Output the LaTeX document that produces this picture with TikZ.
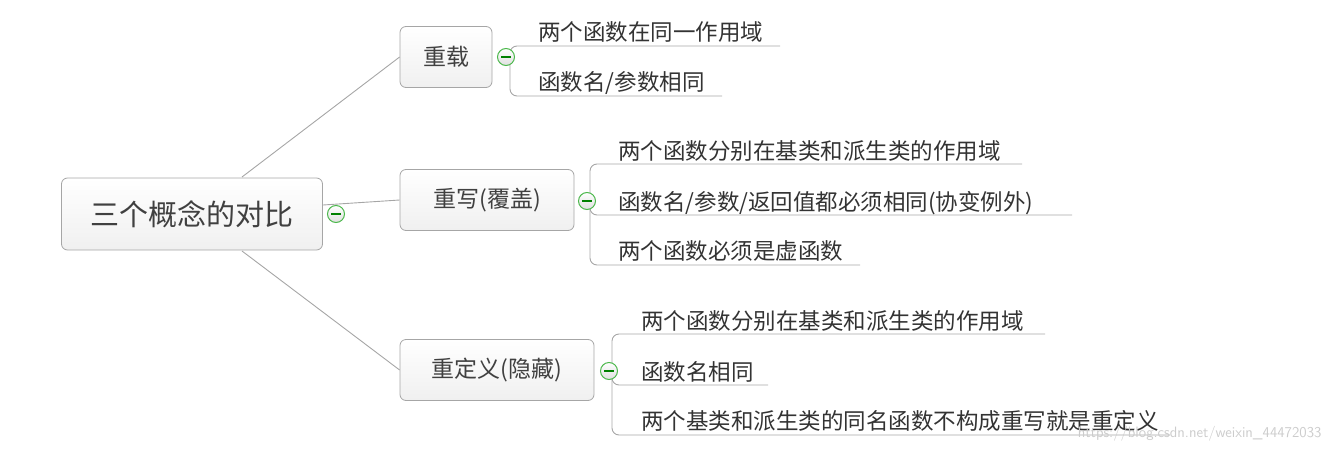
\documentclass[tikz,border=0pt]{standalone}
\usepackage{fontspec}
\setmainfont{Noto Sans CJK SC}
\begin{document}
\begin{tikzpicture}[x=1pt,y=-1pt,
  box/.style={draw=gray!70,rounded corners=6pt,top color=white,bottom color=gray!12,line width=0.8pt,inner sep=0pt,text=black!75},
  tog/.style={circle,draw=green!60!black!70,line width=1pt,top color=white,bottom color=gray!25,minimum size=17pt,inner sep=0pt},
  leaf/.style={anchor=base west,inner sep=0pt,font=\fontsize{22.5}{22.5}\selectfont,text=black!80},
  ln/.style={draw=gray!70,line width=0.9pt},
]
\useasboundingbox (0,0) rectangle (1333,450);
\node[box,minimum width=261pt,minimum height=72pt,font=\fontsize{29}{29}\selectfont] (root) at (192,214) {三个概念的对比};
\node[box,minimum width=92pt,minimum height=61pt,font=\fontsize{23}{23}\selectfont] (b1) at (446,57) {重载};
\node[box,minimum width=174pt,minimum height=61pt,font=\fontsize{23}{23}\selectfont] (b2) at (487,200) {重写(覆盖)};
\node[box,minimum width=194pt,minimum height=61pt,font=\fontsize{23}{23}\selectfont] (b3) at (497,370) {重定义(隐藏)};
\coordinate (r1) at (242,177);
\coordinate (r2) at (323,205);
\coordinate (r3) at (242,251);
\draw[ln] (r1) -- (b1.west);
\draw[ln] (r2) -- (b2.west);
\draw[ln] (r3) -- (b3.west);
% branch 1
\node[leaf] (l11) at (538,40) {两个函数在同一作用域};
\node[leaf] (l12) at (538,90) {函数名/参数相同};
\draw[ln,rounded corners=7pt] (780,46) -- (510,46) -- (510,96) -- (722,96);
% branch 2
\node[leaf] (l21) at (618,159) {两个函数分别在基类和派生类的作用域};
\node[leaf] (l22) at (618,210) {函数名/参数/返回值都必须相同(协变例外)};
\node[leaf] (l23) at (618,259) {两个函数必须是虚函数};
\draw[ln,rounded corners=7pt] (1022,164) -- (590,164) -- (590,265) -- (860,265);
\draw[ln,rounded corners=7pt] (590,201) -- (590,215) -- (1072,215);
% branch 3
\node[leaf] (l31) at (641,329) {两个函数分别在基类和派生类的作用域};
\node[leaf] (l32) at (641,380) {函数名相同};
\node[leaf] (l33) at (641,429) {两个基类和派生类的同名函数不构成重写就是重定义};
\draw[ln,rounded corners=7pt] (1045,334) -- (612,334) -- (612,435) -- (1170,435);
\draw[ln,rounded corners=7pt] (612,371) -- (612,385) -- (768,385);
% toggles
\foreach \n/\x/\y in {t0/336/214,t1/506/57,t2/587/201,t3/609/371}{
  \node[tog] (\n) at (\x,\y) {};
  \draw[green!50!black,line width=1.3pt] ([xshift=-5pt]\n.center) -- ([xshift=5pt]\n.center);
}
\node[anchor=base east,font=\fontsize{15}{15}\selectfont\sffamily,text=gray!40] (wm) at (1325,437) {https://blog.csdn.net/weixin\_44472033};
\end{tikzpicture}
\end{document}
